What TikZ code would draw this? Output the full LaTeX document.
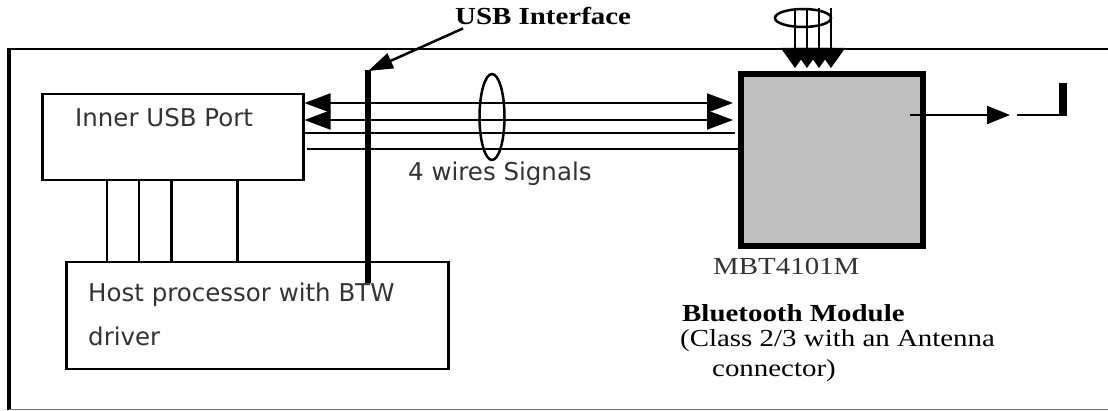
\documentclass[tikz,border=0pt]{standalone}
\usepackage{fontspec}
\setmainfont[FakeStretch=1.18]{Liberation Serif}
\setsansfont{DejaVu Sans}
\usepackage{xcolor}
\usepackage{tikz}
\usetikzlibrary{arrows.meta}
\newcommand{\sansbig}{\sffamily\fontsize{24.5}{29}\selectfont}
\newcommand{\serbig}{\rmfamily\fontsize{24.5}{29}\selectfont}
\tikzset{
  boxed/.style={draw,line width=2.5pt,anchor=north west,inner sep=0pt},
  sanslbl/.style={font=\sansbig,text=black!80,anchor=base west,inner sep=0pt},
  serlbl/.style={font=\serbig,anchor=base west,inner sep=0pt},
  wire/.style={line width=2pt},
  bigtip/.tip={Triangle[length=26pt,width=19pt]},
  downtip/.tip={Triangle[length=20pt,width=28pt]}
}

\begin{document}
\begin{tikzpicture}[x=1pt,y=-1pt]
\useasboundingbox (0,0) rectangle (1108,411);
% ---- FRAME ----
\draw[line width=2.5pt] (9,49) -- (1115,49);
\draw[line width=4pt] (9,47.75) -- (9,410);
\draw[line width=1.5pt,black!55] (9,409.5) -- (1115,409.5);
% ---- HOST SIDE ----
\node[boxed,minimum width=261pt,minimum height=86pt] (port) at (41,93) {};
\node[sanslbl] (portlbl) at (75,127) {Inner USB Port};
\node[boxed,minimum width=382pt,minimum height=107pt] (host) at (65,261) {};
\node[sanslbl] (hostlbl) at (88,302) {Host processor with BTW};
\node[sanslbl] (drvlbl) at (88,346) {driver};
\foreach \x/\w in {107/2pt,139/2pt,171/3pt,237/3pt}{
  \draw[line width=\w] (port.south -| \x,0) -- (host.north -| \x,0);}
% ---- MODULE ----
\foreach \x in {795,807,819,831}{
  \draw[line width=2pt,-downtip] (\x,8) -- (\x,68);}
\draw[line width=2.5pt] (803,18) ellipse [x radius=28, y radius=9];
\node[draw,line width=6pt,fill=black!25,minimum width=182pt,minimum height=172pt,
  anchor=north west,inner sep=0pt] (module) at (738,71) {};
\node[serlbl,text=black!80] (partlbl) at (713,275) {MBT4101M};
\node[serlbl,font=\serbig\bfseries] (modlbl) at (682,322) {Bluetooth Module};
\node[serlbl] (classlbl) at (680,347) {(Class 2/3 with an Antenna};
\node[serlbl] (connlbl) at (712,377) {connector)};
% ---- USB WIRES ----
\foreach \y in {103,120}{
  \draw[wire,bigtip-bigtip,shorten >=5pt] (port.east |- 0,\y) -- (module.west |- 0,\y);}
\draw[wire,shorten >=3pt] (port.east |- 0,133) -- (module.west |- 0,133);
\draw[wire] ([xshift=2pt]port.east |- 0,149) -- (module.west |- 0,149);
\draw[line width=2.5pt] (492,117) ellipse [x radius=12.5, y radius=43];
\node[sanslbl] (wirelbl) at (408,181) {4 wires Signals};
\coordinate (usbtop) at (368,70);
\coordinate (usbbot) at (368,283);
\draw[line width=6.5pt] (usbtop) -- (usbbot);
\node[serlbl,font=\serbig\bfseries] (usblbl) at (455,25) {USB Interface};
\draw[line width=2.5pt,-{Triangle[length=25pt,width=16pt]}]
  ([xshift=8pt,yshift=-3pt]usblbl.south west) -- ([yshift=-1pt]usbtop);
% ---- ANTENNA OUT ----
\coordinate (outbeg) at (910,115);
\coordinate (outend) at (1010,115);
\draw[wire,-{Triangle[length=23pt,width=18pt]}] (outbeg) -- (outend);
\draw[line width=2.5pt] (1017,115) -- (1067,115);
\draw[line width=8pt] (1063,83) -- (1063,116.25);
\end{tikzpicture}
\end{document}
